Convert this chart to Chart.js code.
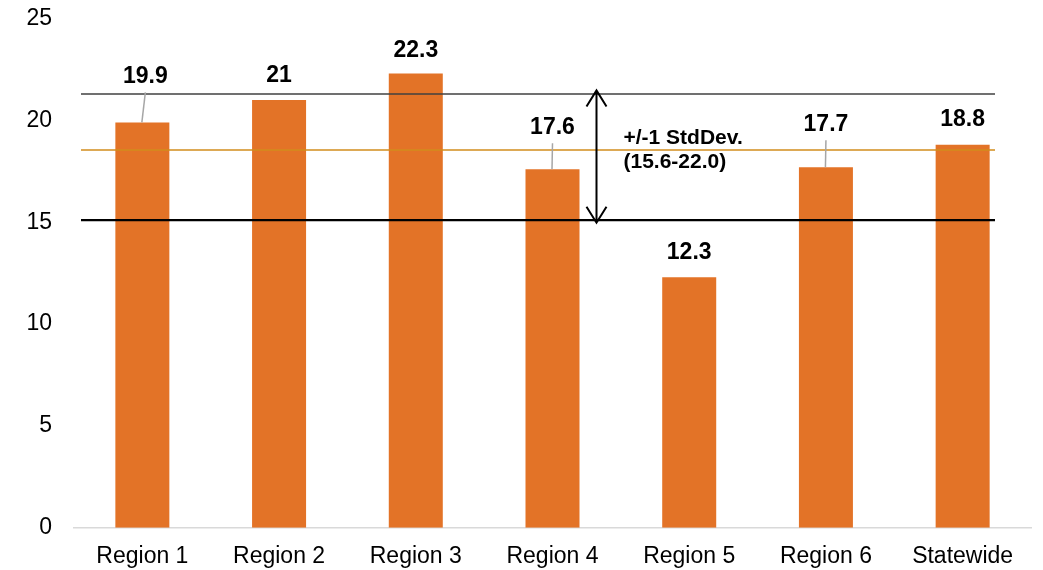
<!DOCTYPE html>
<html>
<head>
<meta charset="utf-8">
<script src="https://cdn.jsdelivr.net/npm/chart.js@4.4.1/dist/chart.umd.min.js"></script>
<style>
  html, body { margin: 0; padding: 0; background: #fff; }
  #wrap { width: 1043px; height: 570px; }
</style>
</head>
<body>
<div id="wrap"><canvas id="chart" width="1043" height="570"></canvas></div>
<script>
// Daten
const categories = ["Region 1", "Region 2", "Region 3", "Region 4", "Region 5", "Region 6", "Statewide"];
const values = [19.9, 21, 22.3, 17.6, 12.3, 17.7, 18.8];
const yTicks = [0, 5, 10, 15, 20, 25];

// Referenzlinien (so wie sie im Bild liegen)
const bandLow = 15.1;
const bandHigh = 21.3;
const meanValue = 18.55;
const bandText = ["+/-1 StdDev.", "(15.6-22.0)"];

// Platzierung der Wertelabels (Pixel über Balken / seitlicher Versatz)
const labelLift = [47, 25, 24, 43, 25.5, 44, 26];
const labelNudge = [3, 0, 0, 0, 0, 0, 0];

const FONT = "'Liberation Sans', Arial, sans-serif";
Chart.defaults.font.family = FONT;
Chart.defaults.color = "#000";

// Auto-Padding der Achsen abschalten, Layout kommt nur aus layout.padding
function noAutoPadding(s) {
    s.paddingTop = 0;
    s.paddingBottom = 0;
    s.paddingLeft = 0;
    s.paddingRight = 0;
}

const overlay = {
    id: "overlay",
    afterDatasetsDraw(chart) {
        const { ctx, chartArea, scales } = chart;
        const y = scales.y;
        const x = scales.x;
        const x0 = chartArea.left + 7;
        const x1 = chartArea.right - 36;

        function hline(v, color, width) {
            const py = y.getPixelForValue(v);
            ctx.save();
            ctx.strokeStyle = color;
            ctx.lineWidth = width;
            ctx.beginPath();
            ctx.moveTo(x0, py);
            ctx.lineTo(x1, py);
            ctx.stroke();
            ctx.restore();
        }

        hline(bandHigh, "#404040", 1.6);
        hline(meanValue, "#d28c1c", 1.5);
        hline(bandLow, "#000000", 2.2);

        // Doppelpfeil
        const ax = x.getPixelForValue(3) + 44;
        const top = y.getPixelForValue(bandHigh) - 3.5;
        const bot = y.getPixelForValue(bandLow) + 2.5;
        ctx.save();
        ctx.strokeStyle = "#000";
        ctx.lineWidth = 2;
        ctx.beginPath();
        ctx.moveTo(ax, top);
        ctx.lineTo(ax, bot);
        ctx.moveTo(ax - 10, top + 16);
        ctx.lineTo(ax, top);
        ctx.lineTo(ax + 10, top + 16);
        ctx.moveTo(ax - 10, bot - 16);
        ctx.lineTo(ax, bot);
        ctx.lineTo(ax + 10, bot - 16);
        ctx.stroke();

        ctx.fillStyle = "#000";
        ctx.font = "bold 21px " + FONT;
        ctx.textAlign = "left";
        ctx.textBaseline = "alphabetic";
        ctx.fillText(bandText[0], ax + 27, 143.5);
        ctx.fillText(bandText[1], ax + 27, 167.5);
        ctx.restore();

        // Wertelabels
        const meta = chart.getDatasetMeta(0);
        ctx.save();
        ctx.font = "bold 23px " + FONT;
        ctx.textAlign = "center";
        ctx.textBaseline = "middle";
        meta.data.forEach((bar, i) => {
            const lx = bar.x + labelNudge[i];
            const ly = bar.y - labelLift[i];
            if (labelLift[i] > 35) {
                ctx.strokeStyle = "#a6a6a6";
                ctx.lineWidth = 1.5;
                ctx.beginPath();
                ctx.moveTo(lx, ly + 17);
                ctx.lineTo(bar.x - 0.5, bar.y);
                ctx.stroke();
            }
            ctx.fillStyle = "#000";
            ctx.fillText(String(values[i]), lx, ly + 1);
        });
        ctx.restore();
    },
};

new Chart(document.getElementById("chart"), {
    type: "bar",
    data: {
        labels: categories,
        datasets: [
            {
                data: values,
                backgroundColor: "#e37327",
                borderWidth: 0,
                categoryPercentage: 1,
                barPercentage: 0.395,
            },
        ],
    },
    options: {
        responsive: false,
        animation: false,
        layout: { padding: { left: 26, right: 12, top: 18.6, bottom: 0 } },
        plugins: {
            legend: { display: false },
            tooltip: { enabled: false },
        },
        scales: {
            x: {
                grid: { display: false, drawTicks: false },
                border: { display: true, color: "#d9d9d9", width: 1.5 },
                ticks: { font: { size: 23 }, padding: 15, color: "#000", maxRotation: 0 },
                afterFit: (s) => { s.height = 42.3; noAutoPadding(s); },
            },
            y: {
                min: 0,
                max: 25,
                grid: { display: false, drawTicks: false },
                border: { display: false },
                ticks: { font: { size: 23 }, padding: 22, color: "#000" },
                afterBuildTicks: (s) => { s.ticks = yTicks.map((v) => ({ value: v })); },
                afterFit: (s) => { s.width = 48; noAutoPadding(s); },
            },
        },
    },
    plugins: [overlay],
});
</script>
</body>
</html>
